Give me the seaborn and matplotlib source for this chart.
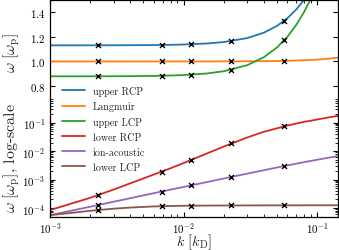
import numpy as np
import pandas as pd
import matplotlib
matplotlib.use("Agg")
import matplotlib.pyplot as plt
import seaborn as sns

# ---------------- data ----------------
k_line = [0.001, 0.0015, 0.002, 0.003, 0.004, 0.006, 0.008, 0.01, 0.015, 0.02,
          0.03, 0.04, 0.05, 0.06, 0.07, 0.08, 0.09, 0.1, 0.12, 0.1435]

upper_rcp = [1.1301, 1.1301, 1.1303, 1.1306, 1.1311, 1.1324, 1.1343, 1.1367, 1.1450, 1.1565,
             1.1887, 1.2324, 1.2863, 1.3493, 1.4204, 1.4978, 1.5813, 1.6694, 1.80, 1.95]
langmuir = [1.0000, 1.0000, 1.0000, 1.0000, 1.0000, 1.0001, 1.0001, 1.0002, 1.0003, 1.0006,
            1.0013, 1.0024, 1.0037, 1.0054, 1.0073, 1.0096, 1.0121, 1.0149, 1.0214, 1.0306]
upper_lcp = [0.8799, 0.8800, 0.8802, 0.8807, 0.8814, 0.8835, 0.8865, 0.8902, 0.9031, 0.9209,
             0.9698, 1.0344, 1.1120, 1.2000, 1.2964, 1.3994, 1.5076, 1.6199, 1.80, 1.95]
lower_rcp = [8.5e-5, 1.51e-4, 2.29e-4, 4.47e-4, 7.41e-4, 1.51e-3, 2.51e-3, 3.80e-3, 8.32e-3, 1.445e-2,
             3.02e-2, 4.79e-2, 6.31e-2, 7.94e-2, 9.33e-2, 0.107, 0.1175, 0.129, 0.151, 0.174]
ion_acoustic = [5.6e-5, 8.4e-5, 1.11e-4, 1.67e-4, 2.22e-4, 3.33e-4, 4.43e-4, 5.5e-4, 8.2e-4, 1.09e-3,
                1.62e-3, 2.14e-3, 2.65e-3, 3.15e-3, 3.63e-3, 4.1e-3, 4.55e-3, 4.98e-3, 5.8e-3, 6.7e-3]
lower_lcp = [5.6e-5, 6.9e-5, 8.0e-5, 9.5e-5, 1.04e-4, 1.14e-4, 1.18e-4, 1.20e-4, 1.22e-4, 1.23e-4,
             1.235e-4, 1.24e-4, 1.24e-4, 1.245e-4, 1.245e-4, 1.245e-4, 1.25e-4, 1.25e-4, 1.25e-4, 1.25e-4]

k_mark = [0.00228, 0.00685, 0.0114, 0.0228, 0.057]
upper_rcp_mark = [1.1304, 1.1332, 1.1387, 1.1644, 1.3295]
langmuir_mark = [1.0000, 1.0001, 1.0002, 1.0008, 1.0049]
upper_lcp_mark = [0.8803, 0.8847, 0.8933, 0.9328, 1.1726]
lower_rcp_mark = [2.8e-4, 1.9e-3, 5.0e-3, 1.86e-2, 7.4e-2]
ion_acoustic_mark = [1.27e-4, 3.8e-4, 6.2e-4, 1.25e-3, 3.0e-3]
lower_lcp_mark = [8.6e-5, 1.17e-4, 1.20e-4, 1.23e-4, 1.24e-4]

top_names = ["upper RCP", "Langmuir", "upper LCP"]
bottom_names = ["lower RCP", "ion-acoustic", "lower LCP"]
top_lines = [upper_rcp, langmuir, upper_lcp]
bottom_lines = [lower_rcp, ion_acoustic, lower_lcp]
top_marks = [upper_rcp_mark, langmuir_mark, upper_lcp_mark]
bottom_marks = [lower_rcp_mark, ion_acoustic_mark, lower_lcp_mark]

# ---------------- style ----------------
sns.set_style("ticks")
plt.rcParams.update({
    "font.family": "serif",
    "font.serif": ["cmr10"],
    "mathtext.fontset": "cm",
    "axes.formatter.use_mathtext": True,
    "font.size": 8.5,
    "axes.labelsize": 10,
    "xtick.labelsize": 8.5,
    "ytick.labelsize": 8.5,
    "axes.linewidth": 0.9,
    "xtick.direction": "in",
    "ytick.direction": "in",
    "xtick.major.size": 3.5,
    "ytick.major.size": 3.5,
    "xtick.minor.size": 2.0,
    "ytick.minor.size": 2.0,
    "xtick.major.pad": 2.5,
    "xtick.color": "black",
    "ytick.color": "black",
    "axes.edgecolor": "black",
})

colors = sns.color_palette("tab10")
W, H = 339, 251

fig = plt.figure(figsize=(W / 100, H / 100), dpi=100)
gs = fig.add_gridspec(2, 1, height_ratios=[100, 119], hspace=0.0,
                      left=50 / W, right=338 / W, top=1 - 0.5 / H, bottom=1 - 217.6 / H)
ax_top = fig.add_subplot(gs[0])
ax_bot = fig.add_subplot(gs[1], sharex=ax_top)

for i, (name, vals) in enumerate(zip(top_names, top_lines)):
    sns.lineplot(x=k_line, y=vals, ax=ax_top, color=colors[i], lw=1.3, label=name)
for i, (name, vals) in enumerate(zip(bottom_names, bottom_lines)):
    sns.lineplot(x=k_line, y=vals, ax=ax_bot, color=colors[i + 3], lw=1.3, label=name)
for mk in top_marks:
    sns.scatterplot(x=k_mark, y=mk, ax=ax_top, marker="x", color="black", s=13, linewidth=1.0, zorder=5)
for mk in bottom_marks:
    sns.scatterplot(x=k_mark, y=mk, ax=ax_bot, marker="x", color="black", s=13, linewidth=1.0, zorder=5)

h1, l1 = ax_top.get_legend_handles_labels()
h2, l2 = ax_bot.get_legend_handles_labels()
for a in (ax_top, ax_bot):
    if a.get_legend() is not None:
        a.get_legend().remove()

ax_top.set_xscale("log")
ax_bot.set_yscale("log")
ax_bot.set_xlim(1e-3, 0.1435)
ax_top.set_ylim(0.7, 1.5)
ax_bot.set_ylim(5e-5, 0.7)
ax_top.set_yticks([0.8, 1.0, 1.2, 1.4])

ax_top.spines["bottom"].set_visible(False)
ax_bot.spines["top"].set_visible(False)
ax_top.tick_params(which="both", top=True, bottom=False, right=True, labelbottom=False)
ax_bot.tick_params(which="both", top=False, bottom=True, right=True)

ax_top.set_ylabel(r"$\omega\ [\omega_\mathrm{p}]$", va="center")
ax_bot.set_ylabel(r"$\omega\ [\omega_\mathrm{p}]$, log-scale", va="center")
ax_bot.set_xlabel(r"$k\ [k_\mathrm{D}]$", va="center")
ax_top.yaxis.set_label_coords(-0.132, 0.475)
ax_bot.yaxis.set_label_coords(-0.132, 0.50)
ax_bot.xaxis.set_label_coords(0.5, -0.212)

# ---- size text so it spans the same pixels as in the reference ----
fig.canvas.draw()
r = fig.canvas.get_renderer()
tick_w = max(t.get_window_extent(r).width for t in ax_top.get_yticklabels()
             if t.get_visible() and t.get_text())
tick_fs = 8.5 * 15.5 / tick_w
for a in (ax_top, ax_bot):
    a.tick_params(which="both", labelsize=tick_fs)
ylab_len = ax_bot.yaxis.label.get_window_extent(r).height
ylab_fs = 10 * 110 / ylab_len
ax_top.yaxis.label.set_fontsize(ylab_fs)
ax_bot.yaxis.label.set_fontsize(ylab_fs)
xlab_w = ax_bot.xaxis.label.get_window_extent(r).width
ax_bot.xaxis.label.set_fontsize(10 * 36 / xlab_w)

# legend sized / spaced like the reference
leg_fs = 7.0
spacing = 0.1
anchor_y = 85.0
target_sum = 47 + 45 + 61 + 45   # upper RCP, lower RCP, ion-acoustic, lower LCP widths
for _ in range(3):
    fs_px = leg_fs * 100 / 72
    leg = fig.legend(h1 + h2, l1 + l2, loc="upper left", bbox_to_anchor=(62 / W, 1 - anchor_y / H),
                     frameon=False, borderpad=0, borderaxespad=0, labelspacing=spacing,
                     handlelength=23 / fs_px, handletextpad=8 / fs_px, fontsize=leg_fs)
    fig.canvas.draw()
    texts = leg.get_texts()
    wsum = sum(texts[i].get_window_extent(r).width for i in (0, 3, 4, 5))
    ys = [0.5 * (t.get_window_extent(r).y0 + t.get_window_extent(r).y1) for t in texts]
    pitch = (ys[0] - ys[-1]) / (len(ys) - 1)
    first_row = H - ys[0]
    leg.remove()
    leg_fs = leg_fs * target_sum / wsum
    spacing = spacing + (15.3 - pitch) / fs_px
    anchor_y = anchor_y + (91.7 - first_row)

fs_px = leg_fs * 100 / 72
fig.legend(h1 + h2, l1 + l2, loc="upper left", bbox_to_anchor=(62 / W, 1 - anchor_y / H),
           frameon=False, borderpad=0, borderaxespad=0, labelspacing=spacing,
           handlelength=23 / fs_px, handletextpad=8 / fs_px, fontsize=leg_fs)

fig.savefig("out.png", dpi=100)
